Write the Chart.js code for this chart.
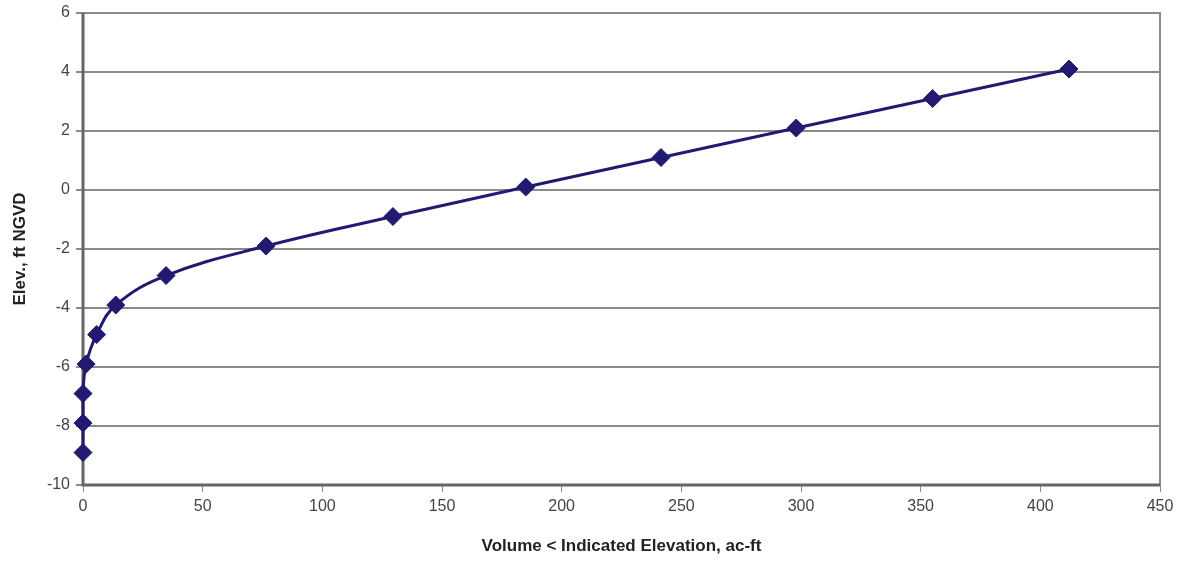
<!DOCTYPE html>
<html>
<head>
<meta charset="utf-8">
<script src="https://cdn.jsdelivr.net/npm/chart.js@4/dist/chart.umd.min.js"></script>
<style>
  html, body { margin: 0; padding: 0; background: #fff; }
  #wrap { width: 1185px; height: 561px; }
</style>
</head>
<body>
<div id="wrap"><canvas id="elevChart" width="1185" height="561"></canvas></div>
<script>
// volume (ac-ft) vs elevation (ft NGVD)
const volume = [0, 0, 0, 1.3, 5.7, 13.7, 34.7, 76.5, 129.5, 185, 241.5, 298, 355, 412]
const elevation = [-8.9, -7.9, -6.9, -5.9, -4.9, -3.9, -2.9, -1.9, -0.9, 0.1, 1.1, 2.1, 3.1, 4.1]

const xTitle = 'Volume < Indicated Elevation, ac-ft'
const yTitle = 'Elev., ft NGVD'

let points = volume.map((v, i) => ({ x: v, y: elevation[i] }))

// grey frame round the plot area
const frame = {
    id: 'frame',
    beforeDatasetsDraw(chart) {
        let a = chart.chartArea
        let ctx = chart.ctx
        ctx.save()
        ctx.strokeStyle = '#8a8a8a'
        ctx.lineWidth = 2
        ctx.strokeRect(a.left, a.top, a.right - a.left, a.bottom - a.top)
        ctx.strokeStyle = '#666'
        ctx.lineWidth = 3
        ctx.beginPath()
        ctx.moveTo(a.left, a.top)
        ctx.lineTo(a.left, a.bottom)
        ctx.lineTo(a.right, a.bottom)
        ctx.stroke()
        ctx.restore()
    }
}

var ctx = document.getElementById('elevChart').getContext('2d');
new Chart(ctx, {
    type: 'line',
    data: {
        datasets: [{
            data: points,
            borderColor: '#221a72',
            backgroundColor: '#221a72',
            borderWidth: 3,
            tension: 0.4,
            clip: false,
            pointStyle: 'rectRot',
            pointRadius: 9,
            pointBorderWidth: 1,
            pointBackgroundColor: '#221a72',
            pointBorderColor: '#221a72'
        }]
    },
    options: {
        responsive: false,
        animation: false,
        layout: { padding: { left: 6, top: 13, right: 25, bottom: 0 } },
        plugins: {
            legend: { display: false },
            tooltip: { enabled: false }
        },
        scales: {
            x: {
                type: 'linear',
                min: 0,
                max: 450,
                ticks: { stepSize: 50, color: '#444', font: { family: 'Liberation Sans', size: 16 }, padding: 5 },
                grid: { drawOnChartArea: false, color: '#888', tickLength: 7 },
                border: { display: false },
                title: {
                    display: true,
                    text: xTitle,
                    color: '#222',
                    font: { family: 'Liberation Sans', size: 17, weight: 'bold' },
                    padding: { top: 16 }
                },
                afterFit: s => { s.height = 76 }
            },
            y: {
                min: -10,
                max: 6,
                ticks: { stepSize: 2, color: '#444', font: { family: 'Liberation Sans', size: 16 }, padding: 6 },
                grid: { color: '#8a8a8a', lineWidth: 2, tickLength: 7 },
                border: { display: false },
                title: {
                    display: true,
                    text: yTitle,
                    color: '#222',
                    font: { family: 'Liberation Sans', size: 17, weight: 'bold' },
                    padding: { bottom: 20 }
                },
                afterFit: s => { s.width = 77; s.paddingTop = 0; s.paddingBottom = 0 }
            }
        }
    },
    plugins: [frame]
});
</script>
</body>
</html>
